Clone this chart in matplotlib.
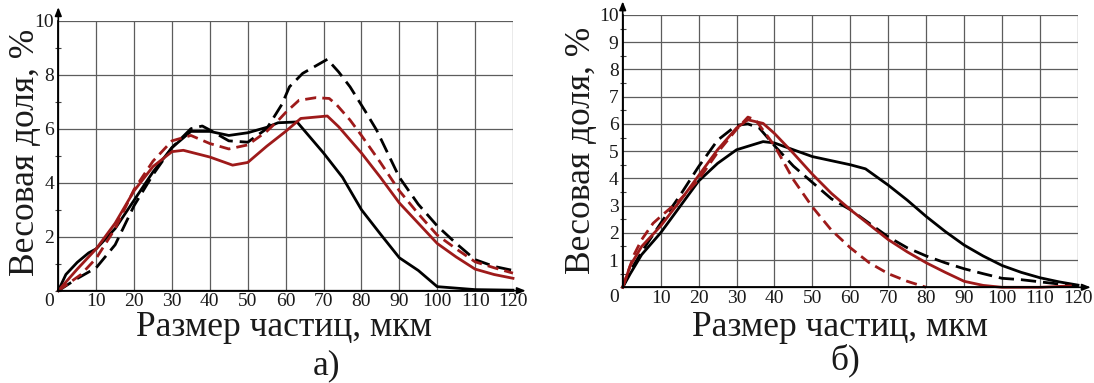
"""Распределение частиц по размерам: две панели а) и б)."""

import matplotlib
matplotlib.use("Agg")
import matplotlib.pyplot as plt
from matplotlib.ticker import MultipleLocator

plt.rcParams["font.family"] = ["Liberation Serif", "DejaVu Serif"]

FIG_W, FIG_H = 1094, 383
RED = "#9e1a1a"
GRID = "#5c5c5c"
INK = "#1a1a1a"

X_LABEL = "Размер частиц, мкм"
Y_LABEL = "Весовая доля, %"
X_TICKS = [10, 20, 30, 40, 50, 60, 70, 80, 90, 100, 110, 120]

# --- панель а) ---
a_black_x = [0, 2, 5, 8, 10, 15, 20, 25, 30, 35, 40, 45, 50, 55, 58, 63, 70, 75,
             80, 85, 90, 95, 100, 110, 120]
a_black_y = [0, 0.6, 1.05, 1.4, 1.55, 2.3, 3.35, 4.4, 5.3, 5.9, 5.9, 5.75, 5.85,
             6.05, 6.22, 6.25, 5.1, 4.2, 3.0, 2.1, 1.22, 0.75, 0.15, 0.04, 0.02]

a_black_dash_x = [0, 5, 10, 15, 20, 25, 30, 35, 38, 40, 45, 50, 55, 59, 61, 64.5,
                  71, 74, 77, 81, 84, 90, 95, 100, 105, 110, 115, 120]
a_black_dash_y = [0, 0.45, 0.85, 1.7, 3.15, 4.3, 5.3, 6.0, 6.1, 5.95, 5.55, 5.5,
                  6.0, 6.9, 7.55, 8.05, 8.57, 8.1, 7.55, 6.65, 5.95, 4.2, 3.2,
                  2.4, 1.75, 1.15, 0.9, 0.75]

a_red_dash_x = [0, 3, 6, 10, 15, 20, 25, 30, 35, 40, 45, 50, 55, 58, 60, 63.5,
                68, 71.5, 73.5, 77, 80, 85, 90, 95, 100, 105, 110, 115, 120]
a_red_dash_y = [0, 0.3, 0.6, 1.2, 2.3, 3.75, 4.8, 5.55, 5.75, 5.45, 5.25, 5.4,
                5.9, 6.3, 6.6, 7.05, 7.15, 7.12, 6.88, 6.32, 5.75, 4.75, 3.7,
                2.85, 2.06, 1.55, 1.07, 0.85, 0.65]

a_red_x = [0, 5, 10, 15, 20, 25, 30, 33, 40, 46, 50, 55, 60, 64, 71, 74, 80, 85,
           90, 95, 100, 105, 110, 115, 120]
a_red_y = [0, 0.8, 1.55, 2.5, 3.7, 4.6, 5.15, 5.2, 4.95, 4.65, 4.75, 5.35, 5.9,
           6.38, 6.47, 6.07, 5.1, 4.2, 3.25, 2.5, 1.75, 1.25, 0.8, 0.6, 0.46]

# --- панель б) ---
b_black_x = [0, 2, 5, 10, 15, 20, 25, 30, 37, 40, 45, 50, 55, 60, 64, 70, 75, 80,
             85, 90, 95, 100, 105, 110, 115, 120]
b_black_y = [0, 0.5, 1.2, 2.0, 2.95, 3.9, 4.55, 5.05, 5.35, 5.3, 5.05, 4.8, 4.65,
             4.5, 4.35, 3.75, 3.2, 2.6, 2.05, 1.55, 1.15, 0.8, 0.55, 0.35, 0.2,
             0.08]

b_black_dash_x = [0, 2, 5, 10, 15, 20, 25, 30, 33, 36, 40, 45, 50, 55, 60, 65,
                  70, 75, 80, 85, 90, 95, 100, 105, 110, 115, 120]
b_black_dash_y = [0, 0.6, 1.3, 2.35, 3.35, 4.43, 5.4, 5.95, 6.0, 5.85, 5.2, 4.45,
                  3.85, 3.25, 2.85, 2.35, 1.85, 1.45, 1.15, 0.9, 0.68, 0.5, 0.33,
                  0.28, 0.2, 0.12, 0.05]

b_red_x = [0, 2, 5, 10, 15, 20, 25, 30, 33, 37, 40, 45, 50, 55, 60, 65, 70, 75,
           80, 85, 90, 95, 100, 110, 118]
b_red_y = [0, 0.8, 1.5, 2.25, 3.15, 4.1, 5.05, 5.85, 6.15, 6.02, 5.65, 4.92, 4.15,
           3.45, 2.85, 2.3, 1.75, 1.3, 0.9, 0.55, 0.22, 0.07, 0.0, 0.0, 0.05]

b_red_dash_x = [0, 1.5, 3, 5, 8, 10, 15, 20, 25, 30, 33, 35, 40, 45, 50, 55, 60,
                65, 70, 75, 80]
b_red_dash_y = [0, 0.6, 1.2, 1.75, 2.35, 2.6, 3.2, 3.95, 4.95, 5.8, 6.25, 6.15,
                5.2, 3.95, 2.95, 2.1, 1.45, 0.9, 0.5, 0.22, 0.0]


def px_box(left, top, right, bottom):
    """Пиксели картинки -> доли фигуры для add_axes."""
    return [left / FIG_W, 1 - bottom / FIG_H, (right - left) / FIG_W,
            (bottom - top) / FIG_H]


def setup_axes(ax, y_max, y_step, y_minor):
    ax.set_xlim(0, 120)
    ax.set_ylim(0, y_max)
    ax.set_xticks(X_TICKS)
    ax.set_yticks([v * y_step for v in range(1, int(y_max / y_step) + 1)])
    ax.yaxis.set_minor_locator(MultipleLocator(y_minor))
    ax.grid(True, which="major", color=GRID, lw=0.9)
    ax.set_axisbelow(True)
    for side in ("top", "right"):
        ax.spines[side].set_visible(False)
    for side in ("left", "bottom"):
        ax.spines[side].set_color("black")
        ax.spines[side].set_linewidth(1.2)
    ax.tick_params(which="major", length=0, labelsize=14, colors=INK)
    ax.tick_params(axis="x", pad=2)
    ax.tick_params(axis="y", pad=3)
    ax.tick_params(which="minor", axis="y", direction="inout", length=4,
                   width=0.8, color="#444444")
    ax.tick_params(which="minor", axis="x", length=0)
    ax.annotate("0", xy=(0, 0), xycoords="axes fraction", xytext=(-6.5, -7.5),
                textcoords="offset points", fontsize=14, color=INK,
                ha="center", va="center")
    # стрелки осей
    ax.annotate("", xy=(0, 1.05), xytext=(0, 0), xycoords="axes fraction",
                arrowprops=dict(arrowstyle="-|>,head_length=0.5,head_width=0.2",
                                color="black", lw=1.2, shrinkA=0, shrinkB=0),
                annotation_clip=False)
    ax.annotate("", xy=(1.028, 0), xytext=(0, 0), xycoords="axes fraction",
                arrowprops=dict(arrowstyle="-|>,head_length=0.5,head_width=0.2",
                                color="black", lw=1.2, shrinkA=0, shrinkB=0),
                annotation_clip=False)


def draw_curves(ax, black, black_dash, red, red_dash):
    ax.plot(*black, color="black", lw=2.0, clip_on=False)
    ax.plot(*black_dash, color="black", lw=2.0, ls=(0, (5.5, 2.5)), clip_on=False)
    ax.plot(*red, color=RED, lw=2.0, clip_on=False)
    ax.plot(*red_dash, color=RED, lw=2.0, ls=(0, (4, 2.2)), clip_on=False)


def main():
    fig = plt.figure(figsize=(FIG_W / 100, FIG_H / 100), dpi=100)

    ax_a = fig.add_axes(px_box(58.3, 20.7, 513, 290.7))
    setup_axes(ax_a, 10, 2, 1)
    draw_curves(ax_a, (a_black_x, a_black_y), (a_black_dash_x, a_black_dash_y),
                (a_red_x, a_red_y), (a_red_dash_x, a_red_dash_y))

    ax_b = fig.add_axes(px_box(622.7, 15, 1078, 287.3))
    setup_axes(ax_b, 10, 1, 0.5)
    draw_curves(ax_b, (b_black_x, b_black_y), (b_black_dash_x, b_black_dash_y),
                (b_red_x, b_red_y), (b_red_dash_x, b_red_dash_y))

    # подписи осей и панелей
    fig.text(284 / FIG_W, 1 - 328 / FIG_H, X_LABEL, fontsize=25.5,
             ha="center", va="center", color=INK)
    fig.text(840 / FIG_W, 1 - 327 / FIG_H, X_LABEL, fontsize=25.5,
             ha="center", va="center", color=INK)
    fig.text(25.5 / FIG_W, 1 - 152 / FIG_H, Y_LABEL, fontsize=25.5,
             rotation=90, ha="center", va="center", color=INK)
    fig.text(582 / FIG_W, 1 - 150 / FIG_H, Y_LABEL, fontsize=25.5,
             rotation=90, ha="center", va="center", color=INK)
    fig.text(326 / FIG_W, 1 - 366 / FIG_H, "а)", fontsize=25.5,
             ha="center", va="center", color=INK)
    fig.text(845 / FIG_W, 1 - 360 / FIG_H, "б)", fontsize=25.5,
             ha="center", va="center", color=INK)

    fig.savefig("out.png", dpi=100)
    plt.close(fig)


if __name__ == "__main__":
    main()
